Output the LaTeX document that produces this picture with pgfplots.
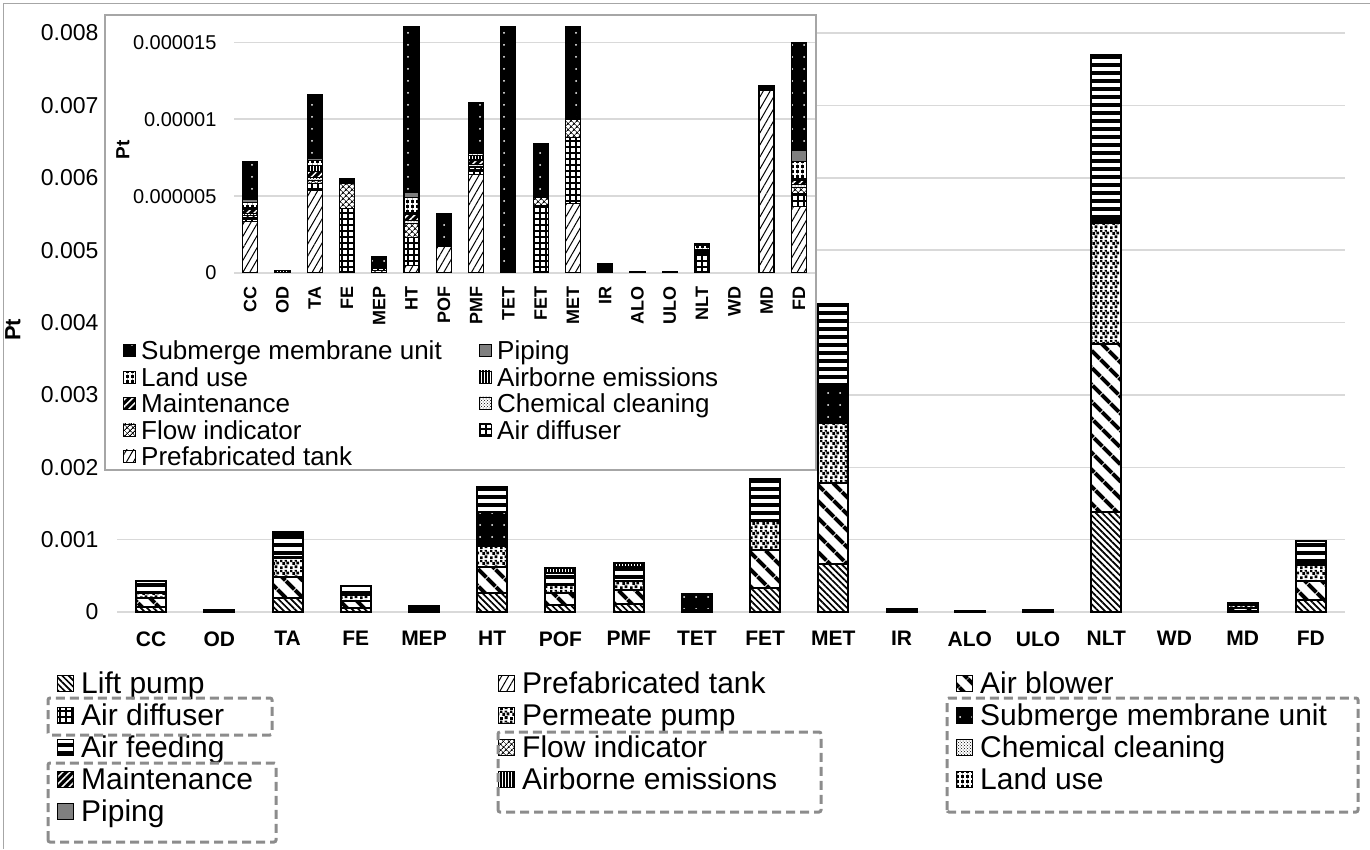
\documentclass[border=0pt]{standalone}
\usepackage{fontspec}
\setmainfont{Liberation Sans}
\usepackage{pgfplots}
\pgfplotsset{compat=1.18}
\usepackage{pgfplotstable}
\usetikzlibrary{patterns,patterns.meta}

\definecolor{gridgray}{HTML}{D9D9D9}
\definecolor{framegray}{HTML}{A6A6A6}
\definecolor{boxgray}{HTML}{8C8C8C}
\definecolor{pipegray}{HTML}{7F7F7F}

\newcommand{\fs}[1]{\fontsize{#1}{#1}\selectfont}

\pgfdeclarepatternformonly{confetti}{\pgfqpoint{0pt}{0pt}}{\pgfqpoint{10pt}{10pt}}{\pgfqpoint{10pt}{10pt}}{%
 \pgfpathrectangle{\pgfqpoint{0pt}{0pt}}{\pgfqpoint{3pt}{3pt}}%
 \pgfpathrectangle{\pgfqpoint{5pt}{1pt}}{\pgfqpoint{3pt}{3pt}}%
 \pgfpathrectangle{\pgfqpoint{2.5pt}{4.5pt}}{\pgfqpoint{3pt}{3pt}}%
 \pgfpathrectangle{\pgfqpoint{7pt}{5pt}}{\pgfqpoint{3pt}{3pt}}%
 \pgfpathrectangle{\pgfqpoint{0pt}{7.5pt}}{\pgfqpoint{2.5pt}{2.5pt}}%
 \pgfpathrectangle{\pgfqpoint{5pt}{8pt}}{\pgfqpoint{2.5pt}{2pt}}%
 \pgfusepath{fill}}

\tikzset{
 pLift/.style={fill=white, postaction={pattern={Lines[angle=-45,distance=4.5pt,line width=1.7pt]}, pattern color=black}},
 pBlower/.style={fill=white, postaction={pattern={Lines[angle=-45,distance=13pt,line width=4.5pt]}, pattern color=black}},
 pPermeate/.style={fill=white, postaction={pattern=confetti, pattern color=black}},
 pSubmerge/.style={fill=black, postaction={pattern={Dots[distance=12pt,radius=1pt]}, pattern color=white}},
 pFeeding/.style={fill=white, postaction={pattern={Lines[angle=0,distance=8pt,line width=4pt]}, pattern color=black}},
 pAirborne/.style={fill=white, postaction={pattern={Lines[angle=90,distance=3pt,line width=1.2pt]}, pattern color=black}},
 pPrefab/.style={fill=white, postaction={pattern={Lines[angle=60,distance=6pt,line width=1pt]}, pattern color=black}},
 pDiffuser/.style={fill=white, postaction={pattern={Hatch[angle=0,distance=6pt,line width=1.5pt]}, pattern color=black}},
 pFlow/.style={fill=white, postaction={pattern={Hatch[angle=45,distance=4pt,line width=0.9pt]}, pattern color=black}},
 pChem/.style={fill=white, postaction={pattern=crosshatch dots, pattern color=black}},
 pMaint/.style={fill=black, postaction={pattern={Lines[angle=45,distance=5pt,line width=1.5pt]}, pattern color=white}},
 pLand/.style={fill=black, postaction={pattern={Hatch[angle=0,distance=5pt,line width=1.2pt]}, pattern color=white}},
 pPiping/.style={fill=pipegray},
}

% main chart values (Pt); WD has no value
\pgfplotstableread{
x lift blower permeate submerge feeding airborne
0 0.00007 0.00012 0.00007 0.000003 0.00017 0.0000001
1 0.000004 0.000007 0.000005 0 0.000008 0.0000001
2 0.00019 0.0003 0.00026 0.000004 0.00032 0.00003
3 0.00005 0.0001 0.00008 0.0000002 0.00013 0
4 0.00001 0.00002 0.00002 0.000001 0.00003 0
5 0.00026 0.00036 0.00029 0.00047 0.00035 0.0000001
6 0.0001 0.00016 0.00011 0.000002 0.00017 0.00006
7 0.00011 0.00019 0.00013 0.000003 0.00019 0.00005
8 0.000005 0.00001 0.000008 0.00021 0.00001 0
9 0.00033 0.00053 0.0004 0.000003 0.00058 0
10 0.00066 0.00112 0.00083 0.00052 0.00113 0
11 0.000008 0.000014 0.00001 0.0000005 0.000015 0
12 0.000003 0.000005 0.000004 0 0.000005 0
13 0.000005 0.00001 0.000007 0 0.00001 0
14 0.00138 0.00232 0.00167 0.00005 0.00228 0
16 0.00002 0.00004 0.00003 0.0000003 0.00004 0
17 0.00016 0.00027 0.00022 0.000007 0.00032 0
}\maindata

% inset values (Pt)
\pgfplotstableread{
x prefab diffuser flow chem maint airborne land piping submerge
0 3.36e-6 0.25e-6 0.15e-6 0.1e-6 0.3e-6 0.1e-6 0.35e-6 0.15e-6 2.5e-6
1 0.02e-6 0 0 0 0 0.12e-6 0 0 0.01e-6
2 5.4e-6 0.4e-6 0.2e-6 0.2e-6 0.4e-6 0.4e-6 0.3e-6 0.15e-6 4.15e-6
3 0.1e-6 4.1e-6 1.6e-6 0.05e-6 0.05e-6 0 0.05e-6 0.05e-6 0.15e-6
4 0.15e-6 0.15e-6 0.05e-6 0.02e-6 0.05e-6 0 0.03e-6 0.02e-6 0.6e-6
5 0.5e-6 1.8e-6 0.9e-6 0.2e-6 0.4e-6 0.1e-6 1.0e-6 0.35e-6 470e-6
6 1.7e-6 0.05e-6 0.05e-6 0.02e-6 0.05e-6 0.05e-6 0.05e-6 0.02e-6 1.9e-6
7 6.4e-6 0.3e-6 0.2e-6 0.15e-6 0.3e-6 0.3e-6 0.15e-6 0.1e-6 3.2e-6
8 0.05e-6 0.05e-6 0.02e-6 0.01e-6 0.02e-6 0 0.02e-6 0.01e-6 210e-6
9 0.1e-6 4.3e-6 0.5e-6 0.05e-6 0.1e-6 0 0.05e-6 0.05e-6 3.25e-6
10 4.5e-6 4.3e-6 1.2e-6 0.05e-6 0.05e-6 0 0.05e-6 0.05e-6 520e-6
11 0.05e-6 0.01e-6 0.01e-6 0 0.01e-6 0 0.01e-6 0 0.5e-6
12 0.05e-6 0 0 0 0 0 0.05e-6 0 0
13 0.03e-6 0 0 0 0 0 0.08e-6 0 0
14 0.1e-6 1.2e-6 0.05e-6 0.05e-6 0.1e-6 0 0.3e-6 0.05e-6 0.05e-6
16 11.9e-6 0 0 0 0 0 0 0 0.3e-6
17 4.35e-6 0.8e-6 0.4e-6 0.2e-6 0.3e-6 0.1e-6 1.1e-6 0.7e-6 7.05e-6
}\insetdata

\newcommand{\LegMain}[4]{%
 \path[#3] (#1,#2-8) rectangle ++(16,16);
 \draw[black, line width=1pt] (#1,#2-8) rectangle ++(16,16);
 \node[anchor=base west, inner sep=0pt, font=\fs{30}] at (#1+24,#2-10.5) {#4};}
\newcommand{\LegIn}[4]{%
 \path[#3] (#1,#2-6) rectangle ++(12,12);
 \draw[black, line width=0.8pt] (#1,#2-6) rectangle ++(12,12);
 \node[anchor=base west, inner sep=0pt, font=\fs{26}] at (#1+18,#2-9.2) {#4};}

\begin{document}
\begin{tikzpicture}[x=1pt,y=1pt]
\useasboundingbox (0,0) rectangle (1370,849);
\draw[framegray, line width=1.5pt] (3.5,0) -- (3.5,845.5) -- (1370,845.5);

\begin{axis}[
 at={(117pt,237pt)}, anchor=south west, scale only axis,
 width=1228pt, height=579pt,
 xmin=-0.5, xmax=17.5, ymin=0, ymax=0.008,
 ybar stacked, bar width=30pt,
 axis line style={draw=none},
 major tick length=0pt,
 scaled y ticks=false,
 ymajorgrids, grid style={gridgray, line width=1.5pt},
 xtick={0,...,17},
 xticklabels={CC,OD,TA,FE,MEP,HT,POF,PMF,TET,FET,MET,IR,ALO,ULO,NLT,WD,MD,FD},
 xticklabel style={font=\bfseries\fs{21}},
 xticklabel shift=16pt,
 ytick={0,0.001,0.002,0.003,0.004,0.005,0.006,0.007,0.008},
 yticklabels={0,0.001,0.002,0.003,0.004,0.005,0.006,0.007,0.008},
 yticklabel style={font=\fs{23}},
 yticklabel shift=15pt,
 every axis plot/.append style={draw=black, line width=2pt},
]
\addplot[pLift] table[x=x,y=lift]{\maindata};
\addplot[pBlower] table[x=x,y=blower]{\maindata};
\addplot[pPermeate] table[x=x,y=permeate]{\maindata};
\addplot[pSubmerge] table[x=x,y=submerge]{\maindata};
\addplot[pFeeding] table[x=x,y=feeding]{\maindata};
\addplot[pAirborne] table[x=x,y=airborne]{\maindata};
\end{axis}

\node[rotate=90, font=\bfseries\fs{22}] at (13,519) {Pt};

% inset
\filldraw[fill=white, draw=framegray, line width=1.5pt] (105,379) rectangle (816,834);
\begin{axis}[
 at={(234pt,576pt)}, anchor=south west, scale only axis,
 width=581pt, height=246pt,
 xmin=-0.5, xmax=17.5, ymin=0, ymax=0.000016,
 ybar stacked, bar width=15pt,
 axis line style={draw=none},
 major tick length=0pt,
 scaled y ticks=false,
 ymajorgrids, grid style={gridgray, line width=1.5pt},
 xtick={0,...,17},
 xticklabels={CC,OD,TA,FE,MEP,HT,POF,PMF,TET,FET,MET,IR,ALO,ULO,NLT,WD,MD,FD},
 xticklabel style={font=\bfseries\fs{18}, rotate=90, anchor=east},
 xticklabel shift=10pt,
 ytick={0,0.000005,0.00001,0.000015},
 yticklabels={0,0.000005,0.00001,0.000015},
 yticklabel style={font=\fs{20}},
 yticklabel shift=14pt,
 every axis plot/.append style={draw=black, line width=1.2pt},
]
\addplot[pPrefab] table[x=x,y=prefab]{\insetdata};
\addplot[pDiffuser] table[x=x,y=diffuser]{\insetdata};
\addplot[pFlow] table[x=x,y=flow]{\insetdata};
\addplot[pChem] table[x=x,y=chem]{\insetdata};
\addplot[pMaint] table[x=x,y=maint]{\insetdata};
\addplot[pAirborne] table[x=x,y=airborne]{\insetdata};
\addplot[pLand] table[x=x,y=land]{\insetdata};
\addplot[pPiping] table[x=x,y=piping]{\insetdata};
\addplot[pSubmerge] table[x=x,y=submerge]{\insetdata};
\end{axis}
\node[rotate=90, font=\bfseries\fs{19}] at (123,699) {Pt};

% inset legend
\LegIn{123}{499}{pSubmerge}{Submerge membrane unit}
\LegIn{479}{499}{pPiping}{Piping}
\LegIn{123}{472}{pLand}{Land use}
\LegIn{479}{472}{pAirborne}{Airborne emissions}
\LegIn{123}{446}{pMaint}{Maintenance}
\LegIn{479}{446}{pChem}{Chemical cleaning}
\LegIn{123}{419}{pFlow}{Flow indicator}
\LegIn{479}{419}{pDiffuser}{Air diffuser}
\LegIn{123}{393}{pPrefab}{Prefabricated tank}

% main legend
\LegMain{57}{166}{pLift}{Lift pump}
\LegMain{498}{166}{pPrefab}{Prefabricated tank}
\LegMain{956}{166}{pBlower}{Air blower}
\LegMain{57}{134}{pDiffuser}{Air diffuser}
\LegMain{498}{134}{pPermeate}{Permeate pump}
\LegMain{956}{134}{pSubmerge}{Submerge membrane unit}
\LegMain{57}{102}{pFeeding}{Air feeding}
\LegMain{498}{102}{pFlow}{Flow indicator}
\LegMain{956}{102}{pChem}{Chemical cleaning}
\LegMain{57}{70}{pMaint}{Maintenance}
\LegMain{498}{70}{pAirborne}{Airborne emissions}
\LegMain{956}{70}{pLand}{Land use}
\LegMain{57}{38}{pPiping}{Piping}

% dashed highlight boxes
\begin{scope}[boxgray, line width=3pt, dash pattern=on 9pt off 5pt, rounded corners=2pt]
\draw (48,114) rectangle (272,151);
\draw (48,7) rectangle (276,86);
\draw (498,37) rectangle (821,117);
\draw (947,37) rectangle (1358,151);
\end{scope}
\end{tikzpicture}
\end{document}
